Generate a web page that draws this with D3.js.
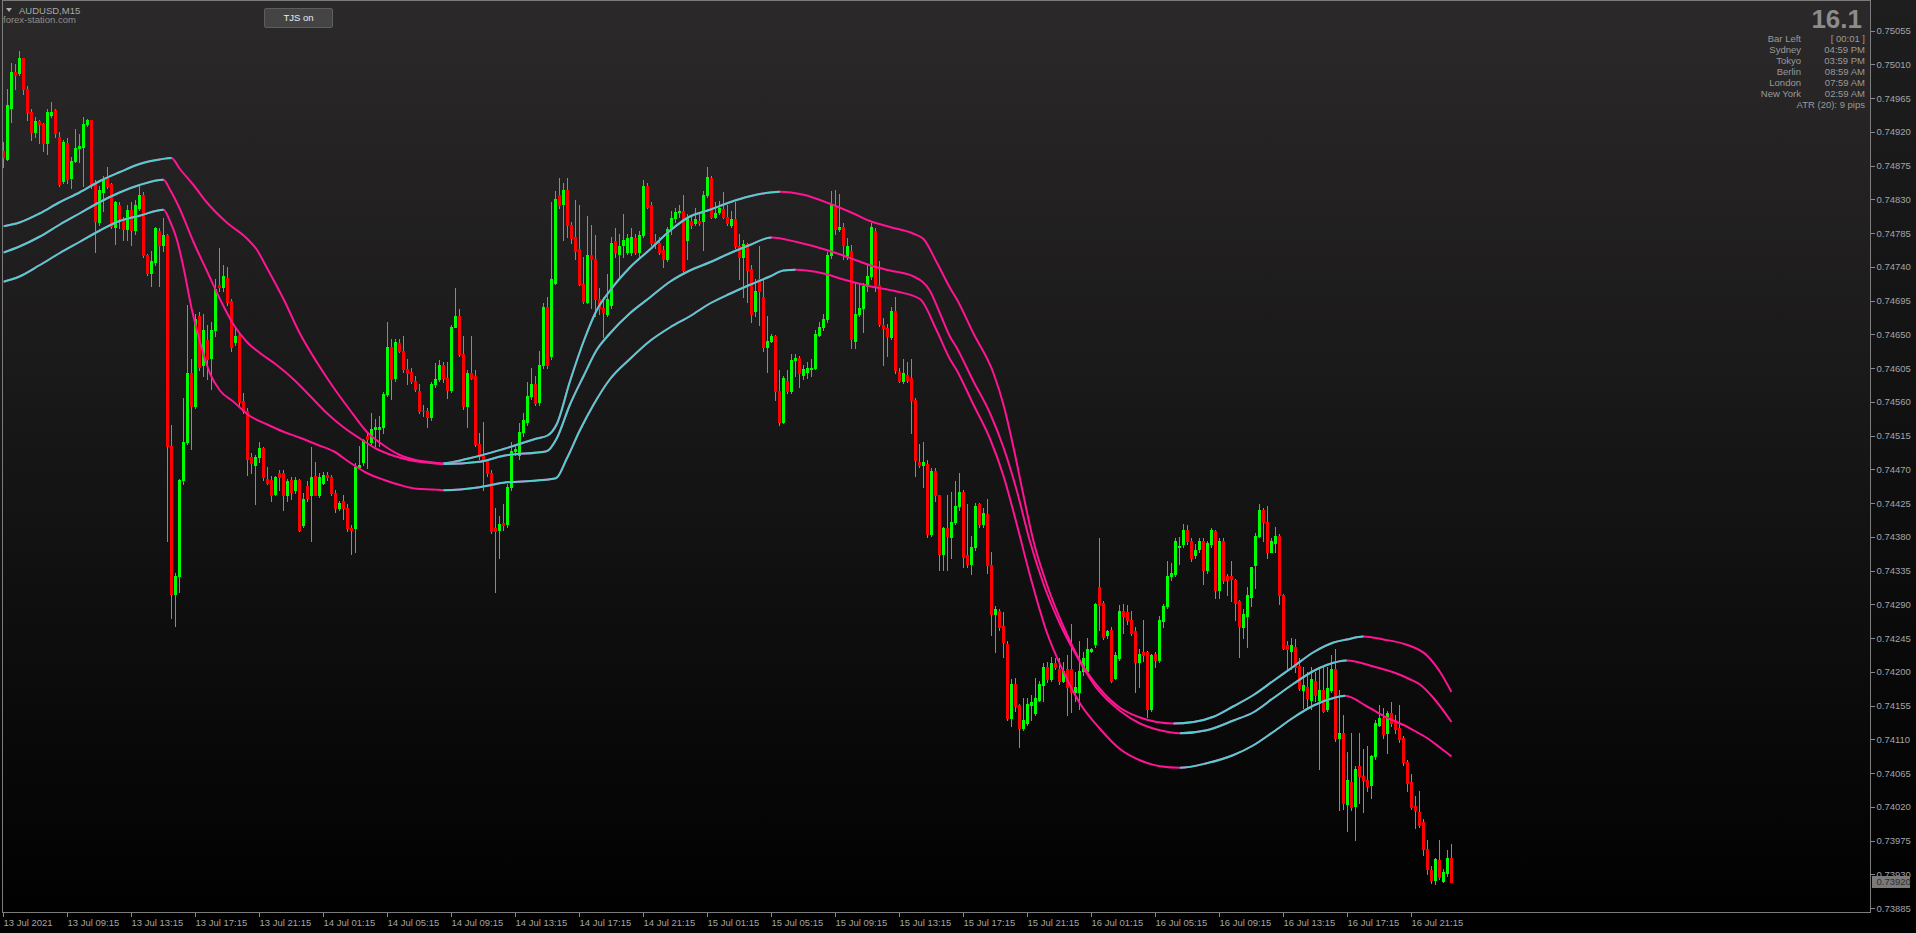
<!DOCTYPE html>
<html><head><meta charset="utf-8">
<script src="https://cdn.jsdelivr.net/npm/d3@7"></script>
<style>
html,body{margin:0;padding:0;background:#000;overflow:hidden}
svg{display:block}
text{font-family:"Liberation Sans",Arial,sans-serif}
</style></head><body>
<svg id="chart" width="1916" height="933"></svg>
<script>
// ---------------- DATA (AUDUSD M15, prices in points: 1 point = 0.00001) ----------------
const POINT = 1e-5;
const candleOpen = [
74894,74884,74952,75000,74999,75018,74977,74946,74920,74934,
74930,74905,74942,74949,74913,74854,74905,74858,74881,74898,
74899,74930,74936,74850,74799,74839,74858,74851,74793,74822,
74803,74790,74816,74789,74818,74835,74755,74732,74746,74788,
74769,74782,74501,74304,74328,74456,74507,74598,74554,74674,
74609,74642,74618,74655,74716,74713,74725,74694,74640,74649,
74561,74548,74486,74476,74486,74498,74457,74455,74437,74465,
74465,74435,74455,74442,74455,74395,74448,74436,74461,74436,
74452,74463,74460,74438,74418,74428,74419,74392,74391,74473,
74479,74514,74506,74523,74524,74526,74570,74633,74592,74638,
74628,74604,74599,74588,74575,74548,74548,74539,74583,74590,
74609,74592,74576,74660,74674,74624,74554,74598,74594,74504,
74488,74482,74465,74391,74389,74398,74397,74446,74494,74489,
74520,74533,74567,74583,74560,74609,74687,74621,74719,74835,
74824,74842,74795,74779,74764,74717,74693,74756,74750,74697,
74685,74677,74689,74774,74757,74769,74760,74759,74778,74759,
74782,74848,74822,74775,74772,74763,74750,74790,74805,74813,
74814,74776,74801,74798,74801,74801,74835,74858,74807,74813,
74817,74807,74795,74803,74767,74753,74770,74737,74681,74723,
74699,74633,74641,74647,74575,74533,74588,74575,74615,74618,
74596,74600,74603,74605,74649,74659,74670,74755,74820,74790,
74793,74753,74761,74641,74677,74685,74714,74727,74788,74716,
74662,74658,74646,74681,74600,74588,74596,74592,74562,74480,
74476,74477,74383,74467,74435,74357,74391,74380,74400,74421,
74440,74355,74343,74366,74423,74397,74410,74342,74277,74281,
74261,74237,74138,74184,74155,74125,74132,74155,74145,74163,
74182,74207,74190,74211,74203,74188,74203,74203,74173,74173,
74201,74201,74228,74237,74313,74292,74249,74256,74192,74218,
74281,74279,74269,74254,74213,74226,74226,74150,74224,74216,
74267,74288,74327,74330,74366,74370,74389,74374,74355,74364,
74374,74336,74370,74387,74309,74374,74327,74327,74322,74294,
74260,74275,74299,74342,74381,74416,74400,74360,74372,74381,
74302,74236,74228,74233,74208,74176,74180,74163,74188,74163,
74176,74150,74176,74203,74112,74119,74023,74053,74021,74074,
74061,74056,74049,74087,74129,74138,74119,74145,74135,74125,
74112,74079,74053,74021,74013,74000,73964,73935,73922,73949,
73921,73932,73952];
const candleHigh = [
74907,74977,75012,75010,75028,75019,74981,74951,74939,74936,
74932,74951,74960,74951,74920,74909,74911,74886,74924,74917,
74939,74937,74936,74856,74848,74861,74873,74852,74827,74826,
74807,74822,74826,74829,74848,74839,74757,74761,74793,74791,
74805,74784,74529,74332,74457,74565,74689,74617,74677,74679,
74677,74662,74666,74723,74765,74742,74740,74697,74659,74651,
74571,74552,74492,74489,74507,74500,74473,74461,74461,74469,
74469,74457,74459,74459,74457,74438,74454,74499,74480,74465,
74466,74466,74463,74442,74428,74435,74423,74395,74478,74501,
74510,74518,74545,74537,74541,74573,74666,74643,74643,74643,
74647,74617,74605,74594,74583,74556,74552,74586,74611,74615,
74613,74613,74662,74712,74684,74647,74602,74647,74602,74518,
74533,74484,74469,74419,74408,74423,74450,74507,74501,74532,
74545,74586,74605,74594,74628,74691,74700,74826,74841,74858,
74852,74858,74799,74829,74822,74753,74808,74795,74782,74712,
74700,74731,74780,74791,74784,74810,74784,74791,74784,74788,
74856,74852,74826,74784,74780,74767,74793,74814,74818,74822,
74835,74810,74807,74818,74810,74841,74873,74861,74826,74828,
74839,74822,74814,74826,74784,74776,74772,74742,74723,74767,
74723,74674,74651,74649,74602,74594,74602,74624,74624,74621,
74609,74613,74617,74655,74666,74677,74760,74841,74843,74837,
74798,74778,74769,74719,74717,74719,74742,74798,74791,74747,
74671,74664,74687,74700,74605,74617,74613,74617,74565,74503,
74507,74482,74471,74471,74436,74393,74435,74439,74454,74465,
74442,74423,74381,74425,74425,74419,74431,74360,74287,74283,
74279,74241,74190,74192,74157,74165,74165,74169,74192,74188,
74211,74213,74220,74218,74218,74213,74222,74264,74199,74241,
74226,74245,74231,74292,74378,74294,74256,74260,74226,74289,
74290,74289,74281,74260,74230,74269,74228,74224,74226,74274,
74290,74347,74345,74378,74380,74397,74395,74378,74370,74378,
74378,74375,74391,74389,74378,74378,74330,74347,74324,74296,
74283,74313,74340,74385,74423,74418,74421,74378,74393,74383,
74304,74241,74245,74243,74218,74207,74199,74207,74199,74203,
74207,74207,74222,74230,74176,74142,74093,74119,74074,74119,
74097,74101,74089,74135,74155,74152,74148,74160,74142,74155,
74114,74082,74064,74034,74041,74003,73975,73941,73952,73975,
73937,73962,73970];
const candleLow = [
74873,74882,74933,74977,74996,74970,74936,74909,74913,74905,
74894,74890,74939,74913,74848,74852,74852,74845,74879,74879,
74848,74928,74845,74760,74795,74814,74845,74791,74770,74791,
74776,74776,74769,74784,74816,74753,74729,74714,74742,74714,
74761,74375,74271,74261,74307,74450,74503,74497,74552,74602,
74594,74590,74577,74647,74708,74708,74689,74628,74636,74556,
74545,74463,74465,74423,74479,74456,74450,74428,74435,74442,
74416,74427,74431,74438,74387,74393,74428,74374,74435,74433,
74450,74456,74436,74413,74415,74404,74387,74357,74359,74471,
74476,74471,74503,74501,74501,74518,74567,74564,74588,74626,
74600,74583,74585,74575,74545,74541,74526,74535,74580,74588,
74586,74565,74573,74659,74621,74550,74526,74590,74501,74484,
74442,74461,74385,74307,74351,74389,74393,74442,74489,74484,
74514,74529,74564,74555,74556,74605,74605,74617,74717,74818,
74776,74780,74772,74750,74716,74691,74691,74685,74674,74677,
74646,74674,74685,74753,74723,74753,74757,74755,74757,74753,
74779,74818,74769,74765,74757,74740,74747,74784,74799,74807,
74731,74750,74791,74795,74795,74763,74833,74805,74805,74810,
74805,74795,74793,74765,74723,74700,74693,74666,74674,74662,
74628,74600,74640,74562,74529,74532,74571,74571,74594,74579,
74590,74592,74594,74603,74647,74655,74666,74752,74784,74788,
74750,74750,74632,74632,74674,74653,74708,74723,74708,74661,
74609,74621,74643,74598,74586,74585,74586,74518,74461,74473,
74446,74380,74381,74427,74336,74336,74336,74351,74397,74416,
74340,74340,74330,74362,74393,74393,74332,74249,74226,74256,
74220,74135,74127,74148,74100,74122,74129,74135,74142,74161,
74161,74186,74188,74203,74184,74186,74142,74146,74161,74150,
74195,74198,74226,74233,74256,74243,74245,74186,74190,74216,
74252,74264,74249,74173,74180,74214,74140,74148,74207,74213,
74260,74285,74322,74327,74343,74366,74370,74347,74351,74360,
74317,74332,74366,74298,74298,74319,74302,74294,74269,74220,
74245,74233,74287,74312,74380,74374,74351,74359,74360,74290,
74230,74203,74203,74199,74175,74152,74150,74150,74161,74070,
74146,74148,74173,74108,74015,74017,73988,74015,73975,74025,
74013,74041,74031,74084,74127,74112,74091,74127,74119,74107,
74076,74041,74017,73991,73993,73955,73930,73918,73917,73924,
73920,73927,73920];
const candleClose = [
74886,74955,75000,74996,75019,74977,74946,74920,74934,74930,
74905,74946,74946,74919,74851,74907,74857,74881,74898,74901,
74930,74936,74850,74801,74842,74856,74848,74794,74826,74805,
74790,74816,74789,74822,74835,74755,74732,74747,74791,74769,
74782,74501,74304,74328,74456,74507,74598,74554,74670,74607,
74655,74617,74655,74710,74713,74727,74693,74633,74647,74560,
74548,74484,74478,74486,74498,74459,74452,74435,74459,74460,
74435,74454,74440,74455,74389,74431,74432,74460,74436,74459,
74463,74459,74438,74419,74425,74419,74391,74389,74473,74476,
74509,74510,74524,74526,74526,74570,74633,74590,74640,74628,
74603,74598,74588,74577,74548,74547,74539,74583,74590,74609,
74592,74576,74659,74674,74623,74554,74598,74592,74503,74488,
74482,74465,74387,74387,74397,74395,74446,74494,74497,74520,
74535,74567,74583,74558,74609,74687,74609,74723,74831,74822,
74843,74795,74778,74761,74717,74694,74755,74750,74697,74685,
74679,74697,74772,74760,74767,74776,74778,74779,74760,74782,
74848,74820,74772,74770,74760,74750,74790,74805,74813,74814,
74735,74805,74795,74803,74798,74835,74860,74807,74812,74818,
74807,74798,74803,74767,74753,74770,74735,74677,74708,74708,
74633,74641,74647,74575,74533,74592,74575,74615,74618,74598,
74603,74605,74605,74651,74659,74670,74755,74823,74790,74793,
74769,74767,74643,74677,74685,74714,74727,74793,74716,74664,
74658,74647,74681,74602,74588,74598,74589,74562,74482,74476,
74479,74383,74467,74435,74357,74391,74381,74400,74421,74440,
74353,74343,74366,74421,74397,74412,74342,74277,74284,74260,
74239,74138,74184,74154,74125,74135,74157,74159,74165,74184,
74207,74190,74211,74207,74188,74201,74180,74173,74180,74201,
74218,74230,74230,74290,74289,74246,74254,74188,74222,74281,
74275,74269,74252,74213,74224,74222,74150,74222,74216,74269,
74288,74327,74332,74374,74368,74389,74374,74351,74362,74374,
74336,74372,74389,74309,74374,74322,74322,74323,74292,74261,
74277,74302,74340,74381,74416,74400,74360,74374,74381,74302,
74231,74230,74236,74207,74178,74182,74165,74190,74169,74176,
74148,74178,74203,74112,74119,74025,74055,74019,74070,74061,
74056,74047,74087,74131,74138,74117,74145,74132,74123,74110,
74079,74051,74019,74015,73996,73964,73937,73922,73950,73926,
73933,73952,73920];

// indicator bands: [bar index, price in points] knots
const upperBand = [[0,74794],[4,74799],[9,74811],[14,74826],[19,74839],[24,74854],[29,74866],[34,74877],[39,74883],[42,74885],[44,74871],[47.5,74849],[50.8,74826],[55.8,74799],[60.8,74778],[63.3,74763],[65.8,74739],[70,74697],[74.1,74651],[78.3,74613],[82.5,74579],[86.6,74549],[90.8,74520],[95,74502],[99.1,74489],[103.3,74482],[107.5,74479],[110,74478],[116,74484],[125,74497],[133.3,74511],[136,74515],[138.3,74530],[141.6,74587],[145,74640],[148.3,74682],[151.6,74708],[156.6,74739],[161.6,74763],[166.6,74788],[171.6,74807],[176.6,74816],[181.6,74826],[186.6,74834],[191.6,74839],[194.1,74840],[200,74836],[206.6,74824],[212.5,74811],[216.6,74801],[221.6,74793],[227.5,74784],[230,74777],[233.3,74746],[236.6,74712],[238.3,74697],[242.5,74651],[247.5,74598],[250,74556],[252.5,74499],[255,74435],[257.5,74374],[260.8,74317],[265,74260],[269.1,74215],[274.1,74177],[279.1,74152],[284.1,74139],[288.3,74133],[292.5,74131],[297.5,74133],[302.5,74140],[307.5,74154],[312.5,74169],[317.5,74188],[322.5,74207],[327.5,74226],[332.5,74239],[335.8,74243],[340,74247],[345,74243],[350.8,74236],[355.8,74222],[359.1,74200],[362,74173]];
const middleBand = [[0,74759],[4,74767],[9,74780],[14,74796],[19,74811],[24,74826],[29,74839],[34,74849],[40,74856],[41.6,74843],[44,74818],[47.5,74773],[50.8,74735],[54.1,74697],[57.5,74663],[60.8,74640],[64.1,74625],[68.3,74609],[72.5,74590],[76.6,74568],[80.8,74545],[85,74526],[89.1,74511],[93.3,74497],[97.5,74488],[101.6,74482],[105.8,74479],[110,74477],[119,74480],[125,74488],[135.8,74494],[138.3,74511],[141.6,74556],[145,74594],[148.3,74629],[151.6,74651],[156.6,74678],[161.6,74699],[166.6,74720],[171.6,74735],[176.6,74746],[181.6,74758],[186.6,74769],[192,74779],[198.3,74773],[206.6,74761],[212.5,74750],[216.6,74742],[221.6,74735],[227.5,74727],[231.6,74708],[234.1,74678],[236.6,74647],[238.3,74632],[242.5,74587],[246.6,74545],[250,74499],[253.3,74442],[256.6,74374],[260,74317],[264.1,74264],[268.3,74221],[273.3,74178],[279.1,74148],[284.1,74131],[289.1,74122],[294.1,74118],[300.8,74122],[307.5,74135],[312.5,74146],[317.5,74165],[322.5,74184],[327.5,74201],[330.8,74209],[335.8,74215],[342.5,74207],[349.1,74196],[351.6,74190],[354.1,74183],[357.5,74165],[362,74133]];
const lowerBand = [[0,74720],[4,74727],[9,74742],[14,74758],[19,74773],[24,74788],[29,74801],[34,74808],[40,74816],[41.6,74801],[43.3,74777],[45,74739],[47,74685],[49.1,74640],[51.6,74598],[54.1,74575],[57.5,74560],[61.6,74541],[65.8,74530],[70,74520],[74.1,74512],[78.3,74503],[82.5,74494],[86.6,74479],[90.8,74465],[95,74456],[99.1,74449],[103.3,74444],[107.5,74443],[110,74442],[119,74446],[125,74452],[133.3,74455],[138.1,74458],[140.8,74484],[144.1,74522],[147.5,74556],[151.6,74590],[156.6,74617],[161.6,74641],[166.6,74659],[171.6,74674],[176.6,74691],[181.6,74704],[186.6,74716],[191.6,74727],[195,74735],[198,74736],[205,74731],[210,74723],[216.6,74714],[223.3,74707],[229.1,74697],[233.3,74655],[236.6,74617],[238.3,74602],[242.5,74556],[246.6,74511],[250,74461],[253.3,74397],[256.6,74329],[260.8,74253],[265,74200],[269.1,74158],[274.1,74124],[279.1,74097],[284.1,74082],[289.1,74074],[294.1,74072],[300.8,74078],[307.5,74089],[312.5,74102],[317.5,74120],[322.5,74139],[327.5,74155],[332.5,74165],[335.4,74168],[340.8,74154],[345.8,74139],[350.8,74127],[352.5,74122],[355.8,74112],[359.1,74099],[362,74087]];

const timeLabels = ["13 Jul 2021","13 Jul 09:15","13 Jul 13:15","13 Jul 17:15","13 Jul 21:15","14 Jul 01:15","14 Jul 05:15","14 Jul 09:15","14 Jul 13:15","14 Jul 17:15","14 Jul 21:15","15 Jul 01:15","15 Jul 05:15","15 Jul 09:15","15 Jul 13:15","15 Jul 17:15","15 Jul 21:15","16 Jul 01:15","16 Jul 05:15","16 Jul 09:15","16 Jul 13:15","16 Jul 17:15","16 Jul 21:15"];
const timeLabelBars = [0,16,32,48,64,80,96,112,128,144,160,176,192,208,224,240,256,272,288,304,320,336,352];
const priceTicks = [0.75055,0.75010,0.74965,0.74920,0.74875,0.74830,0.74785,0.74740,0.74695,0.74650,0.74605,0.74560,0.74515,0.74470,0.74425,0.74380,0.74335,0.74290,0.74245,0.74200,0.74155,0.74110,0.74065,0.74020,0.73975,0.73930,0.73885];
const lastPrice = 0.73920;

const symbolTitle = "AUDUSD,M15";
const siteName = "forex-station.com";
const buttonLabel = "TJS on";
const bigNumber = "16.1";
const infoNames = ["Bar Left","Sydney","Tokyo","Berlin","London","New York"];
const infoValues = ["[ 00:01 ]","04:59 PM","03:59 PM","08:59 AM","07:59 AM","02:59 AM"];
const atrText = "ATR (20): 9 pips";

// ---------------- DRAWING ----------------
const W = 1916, H = 933;
const plotRight = 1870.5, plotBottom = 912.5, plotLeft = 2.5, plotTop = 0.5;
const svg = d3.select('#chart');
const defs = svg.append('defs');

const bg = defs.append('linearGradient').attr('id','bg').attr('gradientUnits','userSpaceOnUse')
  .attr('x1',0).attr('y1',0).attr('x2',0).attr('y2',H);
bg.append('stop').attr('offset','0').attr('stop-color','#2b2929');
bg.append('stop').attr('offset','0.5').attr('stop-color','#161515');
bg.append('stop').attr('offset','1').attr('stop-color','#000000');
const bg2 = defs.append('linearGradient').attr('id','bg2').attr('gradientUnits','userSpaceOnUse')
  .attr('x1',0).attr('y1',0).attr('x2',0).attr('y2',H);
bg2.append('stop').attr('offset','0').attr('stop-color','#1e1e1e');
bg2.append('stop').attr('offset','1').attr('stop-color','#000000');

svg.append('rect').attr('width',W).attr('height',H).attr('fill','url(#bg)');
svg.append('rect').attr('x',plotRight).attr('y',0).attr('width',W-plotRight).attr('height',H).attr('fill','url(#bg2)');

defs.append('clipPath').attr('id','plotclip').append('rect')
  .attr('x',plotLeft+0.5).attr('y',plotTop+0.5).attr('width',plotRight-plotLeft-1).attr('height',plotBottom-plotTop-1);

const x = d3.scaleLinear().domain([-0.875, 466.625]).range([0, 1870]);
const y = d3.scaleLinear().domain([0.73885, 0.75055]).range([908, 30.5]);

const bars = candleOpen.map((o,i) => {
  const c = candleClose[i];
  return {i, o:o*POINT, c:c*POINT,
    h:Math.max(candleHigh[i],o,c)*POINT, l:Math.min(candleLow[i],o,c)*POINT};
});

const plot = svg.append('g').attr('clip-path','url(#plotclip)');

// indicator bands
function drawBand(knots, id){
  const pts = knots.map(k => [k[0], k[1]*POINT]);
  const line = d3.line().x(d=>x(d[0])).y(d=>y(d[1])).curve(d3.curveMonotoneX);
  // rising ranges
  const runs = []; let dir = 1;
  for (let k=0;k<pts.length-1;k++){
    const dv = pts[k+1][1]-pts[k][1];
    if (dv>0) dir = 1; else if (dv<0) dir = -1;
    if (dir>0){
      const last = runs[runs.length-1];
      if (last && last[1]===pts[k][0]) last[1]=pts[k+1][0];
      else runs.push([pts[k][0], pts[k+1][0]]);
    }
  }
  const cp = defs.append('clipPath').attr('id','rise'+id);
  runs.forEach(r => cp.append('rect').attr('x',x(r[0])).attr('y',0).attr('width',x(r[1])-x(r[0])).attr('height',H));
  plot.append('path').datum(pts).attr('d',line).attr('fill','none').attr('stroke','#ff1493').attr('stroke-width',2);
  plot.append('g').attr('clip-path','url(#rise'+id+')')
    .append('path').datum(pts).attr('d',line).attr('fill','none').attr('stroke','#4fd0cc').attr('stroke-width',2);
}

// candles
const cg = plot.append('g').attr('shape-rendering','crispEdges');
cg.selectAll('line.wick').data(bars).join('line').attr('class','wick')
  .attr('x1',d=>x(d.i)).attr('x2',d=>x(d.i))
  .attr('y1',d=>Math.round(y(d.h))).attr('y2',d=>Math.round(y(d.l))+1)
  .attr('stroke','#8a8a8a').attr('stroke-width',1);
cg.selectAll('rect.body').data(bars).join('rect').attr('class','body')
  .attr('x',d=>x(d.i)-1.5).attr('width',3)
  .attr('y',d=>Math.round(y(Math.max(d.o,d.c))))
  .attr('height',d=>Math.max(1, Math.round(y(Math.min(d.o,d.c)))-Math.round(y(Math.max(d.o,d.c)))+1))
  .attr('fill',d=>d.c>=d.o ? '#00ff00' : '#ff0000');

drawBand(upperBand,'u');
drawBand(middleBand,'m');
drawBand(lowerBand,'l');

// frame
svg.append('path').attr('d',`M${plotLeft},${plotBottom}V${plotTop}H${plotRight}V${plotBottom}H${plotLeft}`)
  .attr('fill','none').attr('stroke','#7c7c7c').attr('stroke-width',1).attr('shape-rendering','crispEdges');

// price axis
const gy = svg.append('g').attr('transform',`translate(${plotRight},0)`)
  .call(d3.axisRight(y).tickValues(priceTicks).tickFormat(d3.format('.5f')).tickSize(4).tickPadding(2));
gy.select('.domain').remove();
gy.selectAll('.tick line').attr('stroke','#8a8a8a').attr('shape-rendering','crispEdges');
gy.selectAll('.tick text').attr('fill','#a2a4a6').style('font-size','9.5px').style('font-family','"Liberation Sans",Arial,sans-serif');

// bid label
const bidY = y(lastPrice);
svg.append('rect').attr('x',1872).attr('y',Math.round(bidY)-6).attr('width',38).attr('height',12).attr('fill','#7a7a7a');
svg.append('text').attr('x',1876.5).attr('y',bidY).attr('dy','0.32em').attr('fill','#2e2e2e')
  .style('font-size','9.5px').text(d3.format('.5f')(lastPrice));

// time axis
const gx = svg.append('g').attr('transform',`translate(0,${plotBottom})`)
  .call(d3.axisBottom(x).tickValues(timeLabelBars).tickFormat((d,i)=>timeLabels[i]).tickSize(4).tickPadding(3).offset(0));
gx.select('.domain').remove();
gx.selectAll('.tick line').attr('stroke','#8a8a8a').attr('shape-rendering','crispEdges');
gx.selectAll('.tick text').attr('text-anchor','start').attr('x',0).attr('fill','#a2a4a6')
  .style('font-size','9.5px').style('font-family','"Liberation Sans",Arial,sans-serif');

// top-left labels
svg.append('path').attr('d','M6,8 L12,8 L9,12 Z').attr('fill','#b0b0b0');
svg.append('text').attr('x',19).attr('y',14).attr('fill','#a8a8a8').style('font-size','9.5px').text(symbolTitle);
svg.append('text').attr('x',3).attr('y',22.5).attr('fill','#8e8e8e').style('font-size','9.5px').text(siteName);

// button
svg.append('rect').attr('x',264.5).attr('y',8.5).attr('width',68).attr('height',19).attr('rx',1.5)
  .attr('fill','#444444').attr('stroke','#5e5e5e');
svg.append('text').attr('x',298.5).attr('y',18).attr('dy','0.35em').attr('text-anchor','middle')
  .attr('fill','#ececec').style('font-size','9.5px').text(buttonLabel);

// info panel
svg.append('text').attr('x',1862).attr('y',28).attr('text-anchor','end').attr('fill','#8c8c8c')
  .style('font-size','26px').style('font-weight','bold').text(bigNumber);
const rowY = [39,50,61,71.5,82.5,93.5];
infoNames.forEach((n,i)=>{
  svg.append('text').attr('x',1801).attr('y',rowY[i]).attr('dy','0.35em').attr('text-anchor','end')
    .attr('fill','#9a9a9a').style('font-size','9.5px').text(n);
  svg.append('text').attr('x',1865).attr('y',rowY[i]).attr('dy','0.35em').attr('text-anchor','end')
    .attr('fill','#9a9a9a').style('font-size','9.5px').text(infoValues[i]);
});
svg.append('text').attr('x',1865).attr('y',105).attr('dy','0.35em').attr('text-anchor','end')
  .attr('fill','#9a9a9a').style('font-size','9.5px').text(atrText);
</script>
</body></html>
